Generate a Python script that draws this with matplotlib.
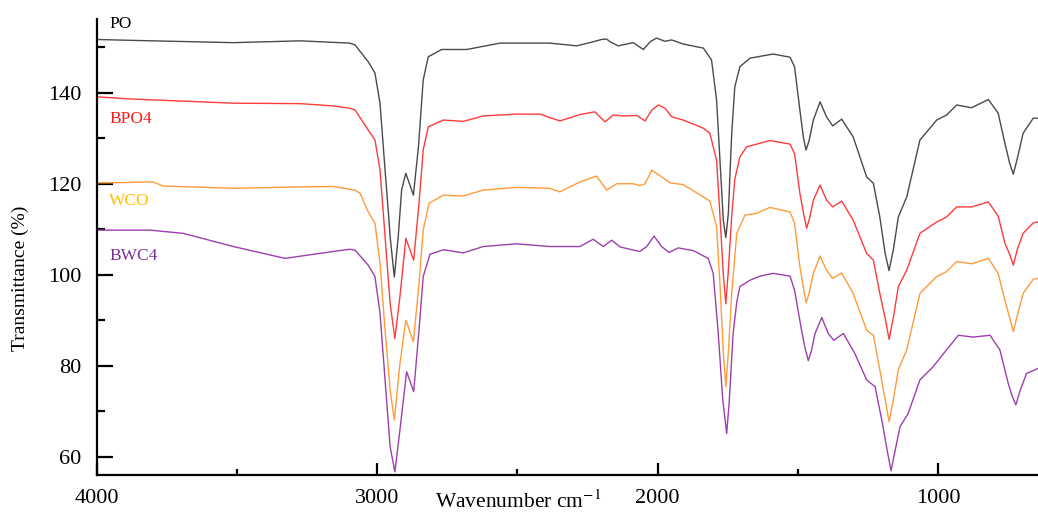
import matplotlib
matplotlib.use('Agg')
from matplotlib import pyplot as plt
from matplotlib.ticker import MultipleLocator

plt.rcParams['font.family'] = ['Liberation Serif', 'DejaVu Serif']
plt.rcParams['mathtext.fontset'] = 'stix'

# FTIR spectra (wavenumber cm-1, transmittance %)
po_wn = [4000, 3871, 3513, 3275, 3098, 3079, 3032, 3008, 2990, 2972, 2960, 2954,
         2939, 2925, 2913, 2898, 2871, 2853, 2836, 2818, 2770, 2681, 2562, 2385,
         2289, 2242, 2200, 2182, 2170, 2141, 2087, 2051, 2027, 2004, 1974, 1950,
         1909, 1837, 1808, 1790, 1778, 1766, 1757, 1748, 1736, 1725, 1707, 1671,
         1588, 1528, 1512, 1493, 1480, 1471, 1460, 1445, 1421, 1398, 1376, 1344,
         1303, 1255, 1231, 1208, 1189, 1175, 1160, 1142, 1112, 1065, 1005, 970,
         934, 881, 821, 786, 762, 745, 732, 718, 697, 661, 644]
po_t = [151.7, 151.5, 151.0, 151.4, 150.9, 150.5, 146.8, 144.3, 137.7, 123.0, 113.5, 108.4,
        99.5, 108.4, 118.6, 122.3, 117.5, 128.1, 142.8, 147.9, 149.5, 149.5, 150.9, 150.9,
        150.3, 151.0, 151.7, 151.8, 151.2, 150.3, 151.0, 149.5, 151.2, 152.0, 151.3, 151.6,
        150.7, 149.8, 147.2, 138.4, 125.2, 112.0, 108.2, 113.5, 131.1, 141.3, 145.7, 147.6,
        148.5, 147.8, 145.7, 136.2, 130.0, 127.4, 129.5, 134.0, 138.0, 134.7, 132.7, 134.2,
        130.3, 121.5, 120.1, 112.7, 104.7, 100.9, 105.4, 112.7, 117.1, 129.6, 134.0, 135.1,
        137.3, 136.7, 138.5, 135.5, 128.9, 124.5, 122.1, 125.5, 131.1, 134.4, 134.4]

bpo4_wn = [4000, 3871, 3513, 3275, 3158, 3098, 3079, 3032, 3008, 2990, 2972, 2954,
           2937, 2919, 2898, 2870, 2851, 2836, 2818, 2764, 2693, 2622, 2503, 2420,
           2349, 2277, 2224, 2188, 2158, 2123, 2075, 2045, 2021, 1998, 1974, 1950,
           1909, 1837, 1814, 1790, 1778, 1766, 1757, 1748, 1736, 1725, 1707, 1683,
           1600, 1528, 1512, 1493, 1480, 1469, 1458, 1445, 1421, 1398, 1376, 1344,
           1303, 1255, 1231, 1208, 1189, 1175, 1160, 1142, 1112, 1065, 1005, 970,
           934, 881, 821, 786, 762, 745, 732, 718, 697, 661, 644]
bpo4_t = [139.1, 138.6, 137.7, 137.6, 137.1, 136.6, 136.2, 131.8, 129.6, 123.0, 108.4, 93.7,
          86.0, 95.2, 108.0, 103.2, 115.7, 127.4, 132.5, 134.0, 133.7, 134.9, 135.3, 135.3,
          133.8, 135.2, 135.8, 133.6, 135.1, 134.9, 135.0, 133.8, 136.2, 137.3, 136.6, 134.7,
          134.0, 132.2, 131.1, 125.2, 113.0, 100.0, 93.6, 101.0, 113.0, 121.0, 125.9, 128.1,
          129.5, 128.7, 126.6, 117.9, 113.5, 110.2, 112.5, 116.4, 119.7, 116.4, 114.9, 116.2,
          112.0, 104.7, 103.2, 95.9, 90.5, 85.8, 90.5, 97.4, 101.0, 109.1, 111.6, 112.7,
          114.9, 114.9, 116.0, 112.9, 106.9, 104.5, 102.1, 105.5, 109.1, 111.4, 111.6]

wco_wn = [4000, 3953, 3799, 3764, 3513, 3275, 3158, 3079, 3061, 3032, 3008, 2990,
          2972, 2954, 2939, 2919, 2898, 2871, 2851, 2836, 2815, 2764, 2693, 2622,
          2503, 2385, 2349, 2277, 2218, 2182, 2146, 2087, 2064, 2045, 2021, 1986,
          1956, 1909, 1837, 1814, 1790, 1778, 1766, 1757, 1748, 1736, 1718, 1689,
          1647, 1600, 1528, 1512, 1493, 1480, 1471, 1460, 1445, 1421, 1398, 1376,
          1344, 1303, 1255, 1231, 1208, 1189, 1175, 1160, 1142, 1112, 1065, 1005,
          970, 934, 881, 821, 786, 762, 745, 732, 718, 697, 661, 644]
wco_t = [120.2, 120.2, 120.4, 119.5, 119.0, 119.3, 119.4, 118.6, 117.9, 113.8, 111.3, 102.5,
         87.8, 74.7, 68.1, 80.5, 90.0, 85.3, 98.1, 109.8, 115.7, 117.5, 117.3, 118.6,
         119.2, 119.0, 118.2, 120.4, 121.7, 118.6, 120.0, 120.0, 119.6, 120.0, 123.0, 121.5,
         120.2, 119.8, 117.1, 116.2, 110.6, 98.0, 83.0, 75.4, 83.0, 96.0, 109.1, 113.1,
         113.5, 114.8, 113.8, 111.3, 101.8, 97.0, 93.8, 96.0, 100.3, 104.1, 101.0, 99.2,
         100.4, 95.9, 87.8, 86.7, 79.1, 72.5, 67.7, 72.5, 79.1, 83.5, 95.9, 99.6,
         100.7, 102.9, 102.4, 103.6, 100.3, 94.4, 90.5, 87.5, 91.0, 95.9, 99.0, 99.2]

bwc4_wn = [4000, 3810, 3692, 3513, 3329, 3158, 3098, 3079, 3032, 3008, 2990, 2972,
           2954, 2937, 2919, 2895, 2870, 2851, 2836, 2812, 2764, 2693, 2622, 2503,
           2385, 2277, 2230, 2194, 2164, 2134, 2064, 2039, 2013, 1986, 1959, 1927,
           1873, 1820, 1802, 1784, 1768, 1754, 1745, 1731, 1718, 1707, 1671, 1635,
           1588, 1528, 1512, 1487, 1475, 1463, 1451, 1439, 1415, 1392, 1372, 1338,
           1297, 1255, 1225, 1201, 1182, 1168, 1153, 1136, 1107, 1065, 1018, 970,
           928, 875, 815, 780, 750, 737, 723, 708, 685, 644]
bwc4_t = [109.8, 109.8, 109.1, 106.2, 103.6, 105.1, 105.6, 105.4, 102.1, 99.6, 91.5, 76.9,
          62.2, 56.7, 65.9, 78.7, 74.3, 87.8, 99.6, 104.5, 105.5, 104.8, 106.2, 106.8,
          106.2, 106.2, 107.8, 106.2, 107.6, 106.1, 105.1, 106.2, 108.5, 106.2, 104.9, 105.9,
          105.3, 103.6, 100.3, 87.1, 72.5, 65.1, 72.0, 87.1, 94.0, 97.4, 98.8, 99.7,
          100.3, 99.7, 96.6, 87.8, 84.0, 81.1, 83.5, 87.1, 90.6, 87.1, 85.6, 87.1,
          82.7, 76.9, 75.4, 68.1, 61.5, 56.9, 61.5, 66.6, 69.5, 76.9, 79.8, 83.5,
          86.7, 86.3, 86.7, 83.5, 76.1, 73.5, 71.4, 74.5, 78.3, 79.4]

names = ['PO', 'BPO4', 'WCO', 'BWC4']
line_colors = ['#4a4a4a', '#ff3b3b', '#ff9c3a', '#9d3fae']
text_colors = ['#000000', '#ff1a1a', '#ffc000', '#7b2fa0']
label_pos = [155.1, 134.2, 116.3, 104.1]

fig = plt.figure(figsize=(10.38, 5.12), dpi=100)
ax = fig.add_axes([0.0932, 0.0723, 0.9068, 0.8906])

series = [(po_wn, po_t), (bpo4_wn, bpo4_t), (wco_wn, wco_t), (bwc4_wn, bwc4_t)]
for (wn, t), c in zip(series, line_colors):
    ax.plot(wn, t, color=c, lw=1.0, solid_joinstyle='round')

for name, c, y in zip(names, text_colors, label_pos):
    ax.text(3955, y, name, color=c, fontsize=12.5, va='center', ha='left')

ax.set_xlim(4000, 644)
ax.set_ylim(56.0, 156.2)
ax.xaxis.set_major_locator(MultipleLocator(1000))
ax.xaxis.set_minor_locator(MultipleLocator(500))
ax.yaxis.set_major_locator(MultipleLocator(20))
ax.yaxis.set_minor_locator(MultipleLocator(10))

ax.spines['top'].set_visible(False)
ax.spines['right'].set_visible(False)
ax.spines['left'].set_linewidth(1.6)
ax.spines['bottom'].set_linewidth(1.6)

ax.tick_params(axis='x', which='major', direction='in', length=8.5, width=1.6,
               labelsize=16, pad=10)
ax.tick_params(axis='x', which='minor', direction='in', length=4, width=1.6)
ax.tick_params(axis='y', which='major', direction='in', length=11.5, width=1.6,
               labelsize=16, pad=11)
ax.tick_params(axis='y', which='minor', direction='in', length=6, width=1.6)

fig.text(20 / 1038, 1 - 278 / 512, 'Transmittance (%)', rotation=90,
         fontsize=14, ha='center', va='center')
fig.text(518 / 1038, 1 - 502 / 512, 'Wavenumber cm$^{-1}$',
         fontsize=15.5, ha='center', va='center')

fig.savefig('out.png', dpi=100)
